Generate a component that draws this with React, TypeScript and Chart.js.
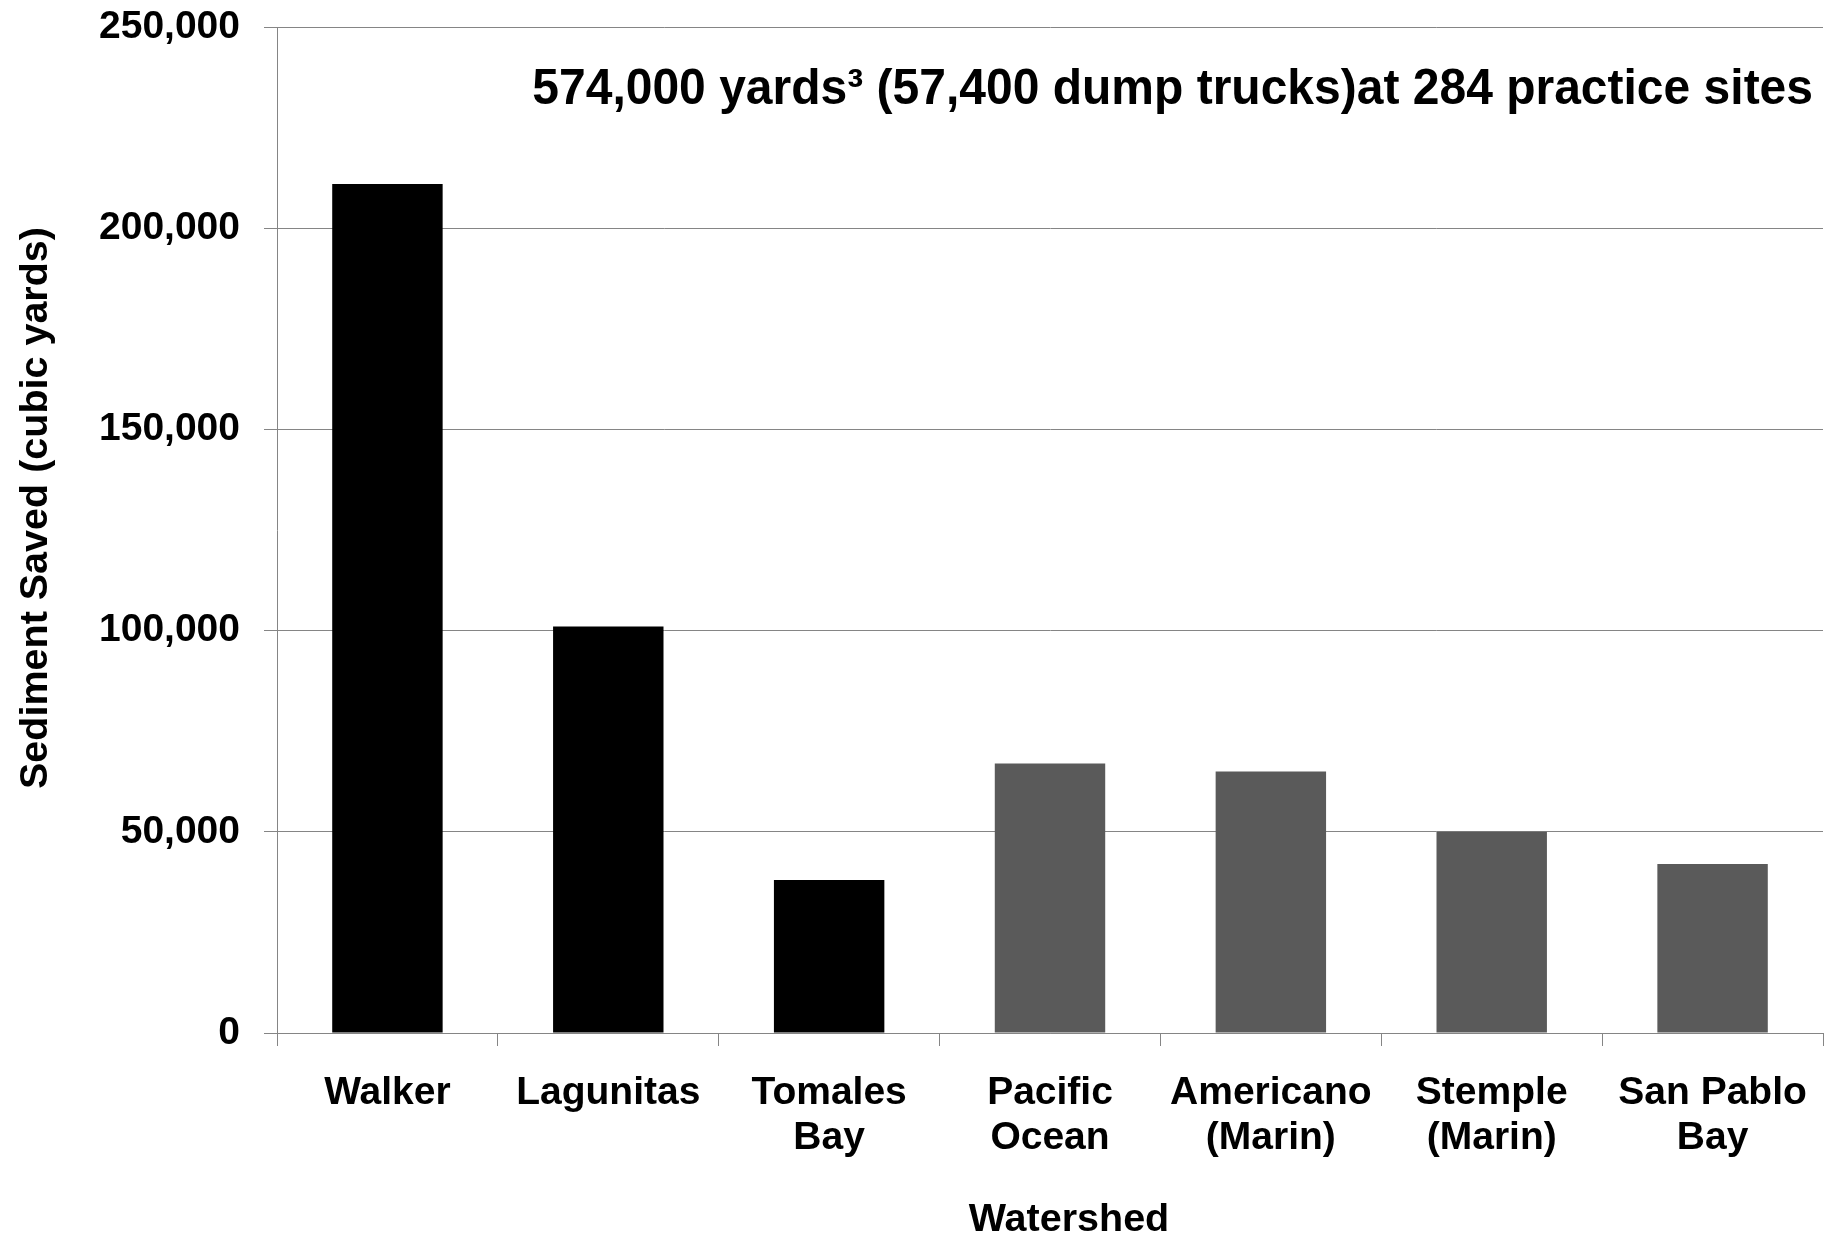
import React, { useEffect, useRef } from 'react';
import { Chart, registerables } from 'chart.js';

Chart.register(...registerables);

// ---- Data ----
const categories: string[][] = [
  ['Walker'],
  ['Lagunitas'],
  ['Tomales', 'Bay'],
  ['Pacific', 'Ocean'],
  ['Americano', '(Marin)'],
  ['Stemple', '(Marin)'],
  ['San Pablo', 'Bay'],
];
const sedimentSaved: number[] = [211000, 101000, 38000, 67000, 65000, 50000, 42000];
const barColors: string[] = ['#000000', '#000000', '#000000', '#5a5a5a', '#5a5a5a', '#5a5a5a', '#5a5a5a'];
const yTickValues: number[] = [0, 50000, 100000, 150000, 200000, 250000];
const chartTitle = '574,000 yards\u00B3 (57,400 dump trucks)at 284 practice sites';
const yAxisTitle = 'Sediment Saved (cubic yards)';
const xAxisTitle = 'Watershed';

const FONT = "'Liberation Sans', Arial, Helvetica, sans-serif";
const GRID = '#858585';

const textPlugin = {
  id: 'textAnnotations',
  afterDraw(chart: any) {
    const { ctx, chartArea } = chart;
    // Title inside plot area, top-right
    ctx.save();
    ctx.fillStyle = '#000';
    ctx.font = `bold 50px ${FONT}`;
    ctx.textAlign = 'right';
    ctx.textBaseline = 'alphabetic';
    ctx.translate(chartArea.right - 10, chartArea.top + 77);
    ctx.scale(0.96, 1);
    ctx.fillText(chartTitle, 0, 0);
    ctx.restore();

    // X axis title
    ctx.save();
    ctx.fillStyle = '#000';
    ctx.font = `bold 39.5px ${FONT}`;
    ctx.textAlign = 'center';
    ctx.textBaseline = 'alphabetic';
    ctx.fillText(xAxisTitle, (chartArea.left + chartArea.right) / 2 + 19, chart.height - 2);
    ctx.restore();

    // Y axis title
    ctx.save();
    ctx.fillStyle = '#000';
    ctx.font = `bold 39.5px ${FONT}`;
    ctx.textAlign = 'center';
    ctx.textBaseline = 'middle';
    ctx.translate(36, (chartArea.top + chartArea.bottom) / 2 - 22);
    ctx.rotate(-Math.PI / 2);
    ctx.fillText(yAxisTitle, 0, 0);
    ctx.restore();
  },
};

export default function App() {
  const canvasRef = useRef<HTMLCanvasElement | null>(null);

  useEffect(() => {
    document.body.style.margin = '0';
    const canvas = canvasRef.current;
    if (!canvas) return;
    const chart = new Chart(canvas, {
      type: 'bar',
      data: {
        labels: categories,
        datasets: [
          {
            label: 'Sediment Saved',
            data: sedimentSaved,
            backgroundColor: barColors,
            borderWidth: 0,
            barPercentage: 0.5,
            categoryPercentage: 1.0,
          },
        ],
      },
      options: {
        responsive: false,
        animation: false,
        devicePixelRatio: 1,
        layout: { padding: { top: 27, right: 2, left: 0, bottom: 0 } },
        plugins: {
          legend: { display: false },
          tooltip: { enabled: false },
          title: { display: false },
        },
        scales: {
          x: {
            offset: true,
            afterFit: (s: any) => {
              s.height = 200;
              s.paddingLeft = 0;
              s.paddingRight = 0;
            },
            grid: {
              display: true,
              drawOnChartArea: false,
              drawTicks: true,
              tickLength: 13,
              offset: true,
              color: GRID,
              lineWidth: 1,
            },
            border: { display: true, color: GRID, width: 1 },
            ticks: {
              color: '#000',
              padding: 25,
              maxRotation: 0,
              autoSkip: false,
              font: { family: FONT, size: 39, weight: 'bold', lineHeight: 1.15 },
            },
          },
          y: {
            min: 0,
            max: 250000,
            afterFit: (s: any) => {
              s.width = 277;
              s.paddingTop = 0;
              s.paddingBottom = 0;
            },
            afterBuildTicks: (s: any) => {
              s.ticks = yTickValues.map((v) => ({ value: v }));
            },
            grid: {
              color: GRID,
              lineWidth: 1,
              tickLength: 13,
              drawTicks: true,
            },
            border: { display: true, color: GRID, width: 1 },
            ticks: {
              color: '#000',
              padding: 24,
              stepSize: 50000,
              font: { family: FONT, size: 39, weight: 'bold' },
              callback: (v: any) => Number(v).toLocaleString('en-US'),
            },
          },
        },
      },
      plugins: [textPlugin],
    });
    return () => {
      chart.destroy();
    };
  }, []);

  return (
    <canvas
      ref={canvasRef}
      width={1825}
      height={1233}
      style={{ display: 'block', width: '1825px', height: '1233px' }}
    />
  );
}
